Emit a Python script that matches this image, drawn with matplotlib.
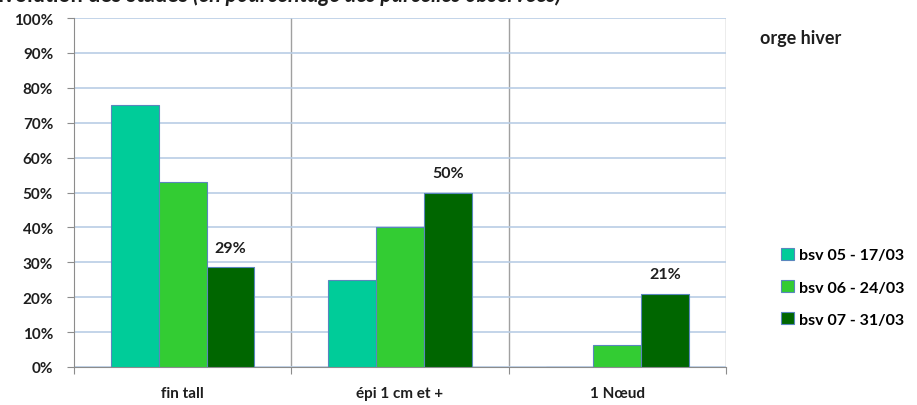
import numpy as np
import matplotlib.pyplot as plt
from matplotlib.patches import Patch

plt.rcParams['font.family'] = ['Lato', 'DejaVu Sans']

stades = ["fin tall", "épi 1 cm et +", "1 Nœud"]
bsv05 = [75, 25, 0]
bsv06 = [53, 40, 6.3]
bsv07 = [28.6, 50, 21]
series = ["bsv 05 - 17/03", "bsv 06 - 24/03", "bsv 07 - 31/03"]
couleurs = ["#00CC99", "#33CC33", "#006600"]
yticks = [0, 10, 20, 30, 40, 50, 60, 70, 80, 90, 100]

txt = "#1e1e1e"

fig = plt.figure(figsize=(9.17, 4.06), dpi=100)
ax = fig.add_axes([0.0807, 0.0936, 0.7110, 0.8594])

x = np.arange(len(stades))
w = 0.22
for k, (vals, c) in enumerate(zip([bsv05, bsv06, bsv07], couleurs)):
    ax.bar(x + (k - 1) * w, vals, w, color=c, edgecolor="#5a86bd",
           linewidth=0.8, zorder=3)

# étiquettes seulement sur la dernière série
for xi, v in zip(x + w, bsv07):
    ax.annotate(f"{v:.0f}%", (xi, v), xytext=(0, 9), textcoords="offset points",
                ha="center", va="bottom", fontsize=11.5, fontweight="bold",
                color=txt)

ax.set_xlim(-0.5, 2.5)
ax.set_ylim(0, 100)
ax.set_yticks(yticks)
ax.set_yticklabels([f"{t}%" for t in yticks], fontsize=11, fontweight="bold",
                   color=txt)
ax.yaxis.grid(True, color="#b9cde5", linewidth=1.2, zorder=0)
for xb in [0.5, 1.5, 2.5]:
    ax.axvline(xb, color="#a0a0a0", linewidth=1, zorder=1)

ax.set_xticks([-0.5, 0.5, 1.5, 2.5])
ax.set_xticklabels([])
ax.set_xticks(x, minor=True)
ax.set_xticklabels(stades, minor=True, fontsize=11, fontweight="bold", color=txt)
ax.tick_params(axis="x", which="minor", length=0, pad=14)
ax.tick_params(axis="x", which="major", length=5, color="#8c8c8c", direction="out")
ax.tick_params(axis="y", length=5, color="#8c8c8c", pad=10)
for s in ["top", "right"]:
    ax.spines[s].set_visible(False)
for s in ["left", "bottom"]:
    ax.spines[s].set_color("#8c8c8c")

# titre coupé en haut de l'image
fig.text(0.2105, 0.994, "Évolution des stades ", fontsize=15.5, fontweight="bold",
         va="baseline", ha="right", color=txt)
fig.text(0.2105, 0.994, "(en pourcentage des parcelles observées)", fontsize=15.5,
         fontweight="bold", style="italic", va="baseline", ha="left", color=txt)

fig.text(0.829, 0.905, "orge hiver", fontsize=13, fontweight="bold",
         va="center", ha="left", color=txt)

handles = [Patch(facecolor=c, edgecolor="#5a86bd", linewidth=0.8) for c in couleurs]
fig.legend(handles, series, loc="center left", bbox_to_anchor=(0.836, 0.29),
           frameon=False, handlelength=0.8, handleheight=0.8, handletextpad=0.3,
           labelspacing=1.1, prop={"weight": "bold", "size": 11.5})

fig.savefig("out.png", dpi=100)
